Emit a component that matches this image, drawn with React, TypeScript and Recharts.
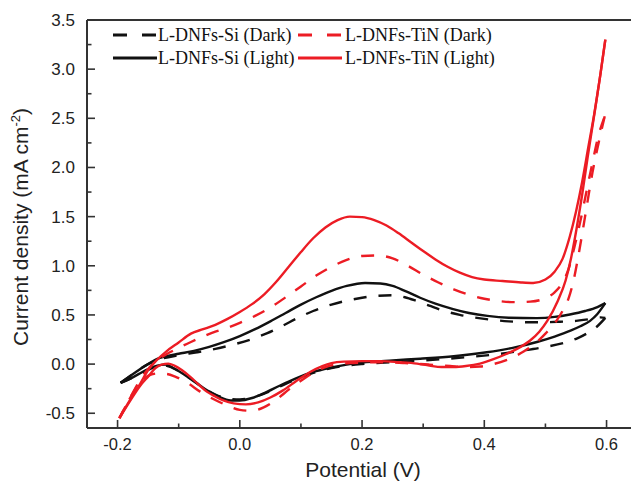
import React from 'react';
import { LineChart, Line, XAxis, YAxis, ReferenceLine, Legend } from 'recharts';

type Pt = [number, number];

// L-DNFs-Si (Dark): forward and reverse scans
const siDarkFwd: Pt[] = [
  [-0.195, -0.19], [-0.17, -0.08], [-0.15, 0.0], [-0.13, 0.05], [-0.1, 0.09], [-0.07, 0.12],
  [-0.04, 0.155], [-0.01, 0.2], [0.02, 0.255], [0.045, 0.315], [0.07, 0.39], [0.095, 0.47],
  [0.12, 0.54], [0.15, 0.605], [0.175, 0.645], [0.2, 0.675], [0.225, 0.695], [0.25, 0.7],
  [0.27, 0.68], [0.29, 0.64], [0.31, 0.595], [0.33, 0.55], [0.36, 0.5], [0.4, 0.46],
  [0.44, 0.435], [0.48, 0.425], [0.52, 0.43], [0.55, 0.44], [0.575, 0.46], [0.59, 0.475], [0.598, 0.47],
];
const siDarkRev: Pt[] = [
  [0.598, 0.47], [0.584, 0.38], [0.57, 0.32], [0.553, 0.265], [0.53, 0.215], [0.5, 0.175],
  [0.46, 0.135], [0.42, 0.1], [0.38, 0.075], [0.33, 0.05], [0.28, 0.03], [0.23, 0.012],
  [0.2, 0.0], [0.175, -0.015], [0.15, -0.04], [0.12, -0.09], [0.09, -0.16], [0.065, -0.23],
  [0.04, -0.3], [0.02, -0.34], [0.0, -0.36], [-0.02, -0.35], [-0.04, -0.31], [-0.06, -0.24],
  [-0.08, -0.15], [-0.1, -0.07], [-0.115, -0.025], [-0.128, -0.01], [-0.14, -0.03],
  [-0.16, -0.09], [-0.18, -0.15], [-0.195, -0.19],
];

// L-DNFs-Si (Light)
const siLightFwd: Pt[] = [
  [-0.195, -0.19], [-0.17, -0.08], [-0.15, 0.0], [-0.136, 0.05], [-0.12, 0.08], [-0.1, 0.105],
  [-0.075, 0.135], [-0.05, 0.175], [-0.025, 0.225], [0.0, 0.285], [0.025, 0.355], [0.05, 0.435],
  [0.075, 0.52], [0.1, 0.605], [0.125, 0.68], [0.15, 0.745], [0.175, 0.795], [0.205, 0.825],
  [0.23, 0.82], [0.25, 0.795], [0.27, 0.745], [0.295, 0.675], [0.32, 0.615], [0.349, 0.56],
  [0.375, 0.52], [0.405, 0.49], [0.44, 0.472], [0.486, 0.468], [0.515, 0.48], [0.54, 0.505],
  [0.565, 0.54], [0.585, 0.58], [0.598, 0.62],
];
const siLightRev: Pt[] = [
  [0.598, 0.62], [0.585, 0.51], [0.573, 0.44], [0.557, 0.385], [0.541, 0.34], [0.515, 0.28],
  [0.486, 0.225], [0.45, 0.17], [0.404, 0.12], [0.35, 0.08], [0.295, 0.055], [0.25, 0.038],
  [0.2, 0.015], [0.175, -0.005], [0.15, -0.035], [0.12, -0.08], [0.09, -0.15], [0.065, -0.22],
  [0.04, -0.295], [0.02, -0.345], [0.0, -0.37], [-0.015, -0.37], [-0.035, -0.33], [-0.053, -0.27],
  [-0.067, -0.21], [-0.081, -0.15], [-0.095, -0.09], [-0.109, -0.04], [-0.122, -0.005],
  [-0.135, -0.015], [-0.15, -0.05], [-0.165, -0.1], [-0.18, -0.15], [-0.195, -0.19],
];

// L-DNFs-TiN (Dark)
const tinDarkFwd: Pt[] = [
  [-0.197, -0.55], [-0.18, -0.35], [-0.165, -0.18], [-0.15, -0.05], [-0.135, 0.04], [-0.12, 0.1],
  [-0.1, 0.165], [-0.08, 0.225], [-0.06, 0.28], [-0.04, 0.33], [-0.02, 0.37], [0.0, 0.42],
  [0.025, 0.49], [0.05, 0.575], [0.075, 0.68], [0.1, 0.79], [0.125, 0.9], [0.15, 0.99],
  [0.175, 1.06], [0.2, 1.1], [0.225, 1.105], [0.25, 1.075], [0.275, 1.0], [0.3, 0.91],
  [0.325, 0.83], [0.35, 0.76], [0.375, 0.705], [0.4, 0.665], [0.425, 0.64], [0.45, 0.63],
  [0.475, 0.635], [0.5, 0.67], [0.515, 0.73], [0.528, 0.83], [0.538, 0.97],
  [0.547, 1.18], [0.557, 1.45], [0.567, 1.75], [0.577, 2.05], [0.587, 2.33], [0.597, 2.52],
];
const tinDarkRev: Pt[] = [
  [0.597, 2.52], [0.587, 2.25], [0.577, 1.95], [0.568, 1.62], [0.56, 1.32], [0.553, 1.07],
  [0.546, 0.85], [0.538, 0.67], [0.528, 0.54], [0.518, 0.44], [0.5, 0.31], [0.486, 0.225],
  [0.465, 0.13], [0.442, 0.055], [0.415, 0.0], [0.393, -0.025], [0.37, -0.03], [0.344, -0.02],
  [0.31, -0.005], [0.27, 0.01], [0.23, 0.018], [0.2, 0.015], [0.18, 0.01], [0.16, 0.0],
  [0.14, -0.03], [0.12, -0.09], [0.1, -0.17], [0.08, -0.26], [0.06, -0.36], [0.039, -0.44],
  [0.02, -0.475], [0.0, -0.465], [-0.021, -0.42], [-0.045, -0.35], [-0.065, -0.28],
  [-0.086, -0.19], [-0.105, -0.13], [-0.12, -0.1], [-0.135, -0.095], [-0.15, -0.12],
  [-0.165, -0.2], [-0.18, -0.35], [-0.197, -0.55],
];

// L-DNFs-TiN (Light)
const tinLightFwd: Pt[] = [
  [-0.197, -0.55], [-0.18, -0.37], [-0.163, -0.2], [-0.15, -0.06], [-0.136, 0.04], [-0.12, 0.13],
  [-0.1, 0.22], [-0.08, 0.31], [-0.06, 0.355], [-0.04, 0.4], [-0.02, 0.46], [0.0, 0.53],
  [0.02, 0.61], [0.04, 0.71], [0.06, 0.84], [0.08, 0.99], [0.1, 1.14], [0.12, 1.28],
  [0.14, 1.39], [0.16, 1.465], [0.18, 1.5], [0.2, 1.495], [0.22, 1.465], [0.24, 1.41],
  [0.26, 1.33], [0.28, 1.24], [0.3, 1.15], [0.32, 1.065], [0.34, 0.99], [0.36, 0.93],
  [0.38, 0.885], [0.4, 0.86], [0.43, 0.845], [0.46, 0.83], [0.48, 0.825], [0.5, 0.86],
  [0.515, 0.94], [0.528, 1.07], [0.54, 1.3], [0.55, 1.55], [0.56, 1.85], [0.57, 2.2],
  [0.58, 2.55], [0.59, 2.95], [0.598, 3.3],
];
const tinLightRev: Pt[] = [
  [0.598, 3.3], [0.59, 2.95], [0.579, 2.5], [0.569, 2.1], [0.56, 1.72], [0.551, 1.38],
  [0.542, 1.08], [0.533, 0.85], [0.52, 0.64], [0.503, 0.44], [0.49, 0.33], [0.475, 0.24],
  [0.455, 0.16], [0.435, 0.1], [0.415, 0.05], [0.393, 0.005], [0.37, -0.02], [0.35, -0.03],
  [0.33, -0.03], [0.31, -0.015], [0.29, 0.005], [0.26, 0.02], [0.23, 0.03], [0.2, 0.03],
  [0.17, 0.025], [0.15, 0.01], [0.135, -0.02], [0.115, -0.08], [0.093, -0.17], [0.07, -0.27],
  [0.05, -0.34], [0.03, -0.39], [0.01, -0.41], [-0.01, -0.4], [-0.027, -0.37], [-0.04, -0.33],
  [-0.054, -0.28], [-0.067, -0.21], [-0.081, -0.13], [-0.095, -0.06], [-0.107, -0.015],
  [-0.117, 0.005], [-0.128, -0.005], [-0.138, -0.04], [-0.149, -0.12], [-0.163, -0.22],
  [-0.18, -0.38], [-0.197, -0.55],
];

const xMajorTicks = [-0.2, 0.0, 0.2, 0.4, 0.6];
const xMinorTicks = [-0.1, 0.1, 0.3, 0.5];
const yMajorTicks = [-0.5, 0.0, 0.5, 1.0, 1.5, 2.0, 2.5, 3.0, 3.5];
const yMinorTicks = [-0.25, 0.25, 0.75, 1.25, 1.75, 2.25, 2.75, 3.25];

const seriesNames = ['L-DNFs-Si (Dark)', 'L-DNFs-TiN (Dark)', 'L-DNFs-Si (Light)', 'L-DNFs-TiN (Light)'];
const xTitle = 'Potential (V)';
const yTitleMain = 'Current density (mA cm';
const yTitleSup = '-2';

const RED = '#ec1c24';
const BLACK = '#111111';
const AXIS = '#333333';
const SANS = '"Liberation Sans", Arial, sans-serif';
const SERIF = '"Liberation Serif", "Times New Roman", serif';

const W = 632;
const H = 482;
const MARGIN = { top: 20, right: 1, left: 0, bottom: 0 };
const Y_AXIS_W = 87;
const X_AXIS_H = 54;
const X_DOMAIN: [number, number] = [-0.25, 0.64];
const Y_DOMAIN: [number, number] = [-0.65, 3.5];
const PLOT_DASH = '13 12';

const series = [
  { name: seriesNames[0], color: BLACK, dashed: true, fwd: siDarkFwd, rev: siDarkRev },
  { name: seriesNames[2], color: BLACK, dashed: false, fwd: siLightFwd, rev: siLightRev },
  { name: seriesNames[1], color: RED, dashed: true, fwd: tinDarkFwd, rev: tinDarkRev },
  { name: seriesNames[3], color: RED, dashed: false, fwd: tinLightFwd, rev: tinLightRev },
];

const toRows = (pts: Pt[]) => pts.map(([x, y]) => ({ x, y }));

const XTick = (props: any) => {
  const { x, y, payload } = props;
  const v = payload.value as number;
  const major = xMajorTicks.includes(v);
  return (
    <g>
      <line x1={x} y1={y} x2={x} y2={y - (major ? 8 : 4.5)} stroke={AXIS} strokeWidth={1.6} />
      {major && (
        <text x={x} y={y + 22} textAnchor="middle" fontSize={16.5} fontFamily={SANS} fill="#222">
          {v.toFixed(1)}
        </text>
      )}
    </g>
  );
};

const YTick = (props: any) => {
  const { x, y, payload } = props;
  const v = payload.value as number;
  const major = yMajorTicks.includes(v);
  return (
    <g>
      <line x1={x} y1={y} x2={x + (major ? 8 : 4.5)} y2={y} stroke={AXIS} strokeWidth={1.6} />
      {major && (
        <text x={x - 12} y={y + 6} textAnchor="end" fontSize={17} fontFamily={SANS} fill="#222">
          {v.toFixed(1)}
        </text>
      )}
    </g>
  );
};

const plotLeft = MARGIN.left + Y_AXIS_W;
const plotRight = W - MARGIN.right;
const plotTop = MARGIN.top;
const plotBottom = H - MARGIN.bottom - X_AXIS_H;

const XTitle = () => (
  <text x={(plotLeft + plotRight) / 2 + 4} y={plotBottom + 49} textAnchor="middle" fontSize={21} fontFamily={SANS} fill="#222">
    {xTitle}
  </text>
);

const YTitle = () => {
  const cx = 28;
  const cy = (plotTop + plotBottom) / 2 + 3;
  return (
    <text x={cx} y={cy} transform={`rotate(-90 ${cx} ${cy})`} textAnchor="middle" fontSize={21} fontFamily={SANS} fill="#222">
      {yTitleMain}
      <tspan fontSize={13} dy={-8}>{yTitleSup}</tspan>
      <tspan dy={8}>)</tspan>
    </text>
  );
};

const legendLayout = [
  { idx: 0, color: BLACK, dashed: true, lx: 113, tx: 158, ly: 35, ty: 41 },
  { idx: 1, color: RED, dashed: true, lx: 298, tx: 345, ly: 35, ty: 41 },
  { idx: 2, color: BLACK, dashed: false, lx: 113, tx: 158, ly: 58, ty: 64 },
  { idx: 3, color: RED, dashed: false, lx: 298, tx: 345, ly: 58, ty: 64 },
];

const LegendContent = () => (
  <svg width={W} height={72} style={{ display: 'block' }}>
    {legendLayout.map((l) => (
      <g key={l.idx}>
        <line
          x1={l.lx}
          y1={l.ly}
          x2={l.lx + 44}
          y2={l.ly}
          stroke={l.color}
          strokeWidth={3}
          strokeDasharray={l.dashed ? '14 15' : undefined}
        />
        <text x={l.tx} y={l.ty} fontSize={18} fontFamily={SERIF} fill="#111">
          {seriesNames[l.idx]}
        </text>
      </g>
    ))}
  </svg>
);

export default function App() {
  return (
    <div style={{ position: 'absolute', left: 0, top: 0, width: W, height: H, background: '#fff' }}>
      <LineChart width={W} height={H} margin={MARGIN}>
        <XAxis
          type="number"
          dataKey="x"
          domain={X_DOMAIN}
          allowDataOverflow
          ticks={[...xMajorTicks, ...xMinorTicks].sort((a, b) => a - b)}
          interval={0}
          tickSize={0}
          tickMargin={0}
          tickLine={false}
          tick={<XTick />}
          axisLine={{ stroke: AXIS, strokeWidth: 2 }}
          height={X_AXIS_H}
          label={<XTitle />}
        />
        <YAxis
          type="number"
          domain={Y_DOMAIN}
          allowDataOverflow
          ticks={[...yMajorTicks, ...yMinorTicks].sort((a, b) => a - b)}
          interval={0}
          tickSize={0}
          tickMargin={0}
          tickLine={false}
          tick={<YTick />}
          axisLine={{ stroke: AXIS, strokeWidth: 2 }}
          width={Y_AXIS_W}
          label={<YTitle />}
        />
        <ReferenceLine y={3.5} stroke={AXIS} strokeWidth={2} />
        <Legend
          verticalAlign="middle"
          layout="horizontal"
          align="center"
          content={<LegendContent />}
          wrapperStyle={{ position: 'absolute', top: 0, left: 0, width: W, height: 72 }}
        />
        {series.flatMap((s) =>
          [s.fwd, s.rev].map((d, i) => (
            <Line
              key={`${s.name}-${i}`}
              data={toRows(d)}
              dataKey="y"
              name={s.name}
              type="monotone"
              stroke={s.color}
              strokeWidth={2.4}
              strokeDasharray={s.dashed ? PLOT_DASH : undefined}
              dot={false}
              activeDot={false}
              legendType="none"
              isAnimationActive={false}
            />
          ))
        )}
      </LineChart>
    </div>
  );
}
